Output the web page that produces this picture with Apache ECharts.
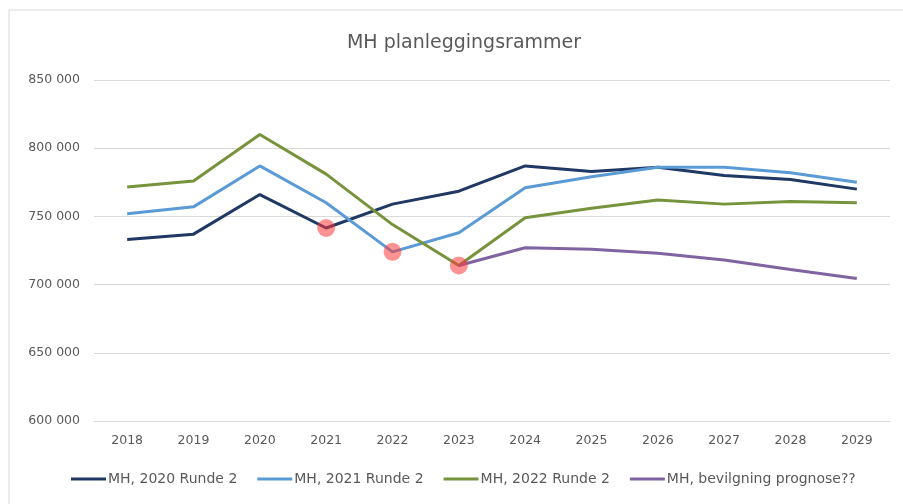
<!DOCTYPE html>
<html>
<head>
<meta charset="utf-8">
<script src="https://cdn.jsdelivr.net/npm/echarts@6/dist/echarts.min.js"></script>
<style>
  html, body { margin: 0; padding: 0; background: #fff; }
  #chart { width: 903px; height: 504px; }
</style>
</head>
<body>
<div id="chart"></div>
<script>
// Data
var years = ['2018', '2019', '2020', '2021', '2022', '2023', '2024', '2025', '2026', '2027', '2028', '2029'];
var runde2020 = [733000, 737000, 766000, 741500, 759000, 768500, 787000, 783000, 786000, 780000, 777000, 770000];
var runde2021 = [752000, 757000, 787000, 760000, 724000, 738000, 771000, 779000, 786000, 786000, 782000, 775000];
var runde2022 = [771500, 776000, 810000, 781000, 744000, 714000, 749000, 756000, 762000, 759000, 761000, 760000];
var prognose = [null, null, null, null, null, 714000, 727000, 726000, 723000, 718000, 711000, 704500];
// highlighted points: [year, value]
var highlights = [['2021', 741500], ['2022', 724000], ['2023', 714000]];

var names = ['MH, 2020 Runde 2', 'MH, 2021 Runde 2', 'MH, 2022 Runde 2', 'MH, bevilgning prognose??'];
var colors = ['#1f3864', '#5b9bd5', '#77933c', '#8064a2'];
var textColor = '#595959';
var font = 'DejaVu Sans';

function fmt(v) {
    return String(v).replace(/\B(?=(\d{3})+(?!\d))/g, ' ');
}

var chart = echarts.init(document.getElementById('chart'));

function lineSeries(i, data) {
    return {
        name: names[i],
        type: 'line',
        data: data,
        symbol: 'none',
        lineStyle: { width: 3, color: colors[i] },
        itemStyle: { color: colors[i] },
        z: 2
    };
}

var option = {
    animation: false,
    graphic: [{
        type: 'rect',
        shape: { x: 9, y: 10, width: 1000, height: 1000 },
        style: { fill: 'none', stroke: '#d9d9d9', lineWidth: 1 },
        silent: true
    }],
    title: {
        text: 'MH planleggingsrammer',
        left: 459,
        textAlign: 'center',
        top: 29,
        textStyle: { fontFamily: font, fontSize: 19, fontWeight: 'normal', color: textColor }
    },
    legend: {
        bottom: 13,
        left: 66,
        itemWidth: 35,
        itemHeight: 3,
        itemGap: 20,
        icon: 'rect',
        data: names,
        textStyle: { fontFamily: font, fontSize: 14, color: textColor, padding: [0, 0, 0, -3] }
    },
    grid: { left: 94, right: 13, top: 80, bottom: 83 },
    xAxis: {
        type: 'category',
        data: years,
        boundaryGap: true,
        axisLine: { show: true, lineStyle: { color: '#d9d9d9' } },
        axisTick: { show: false },
        axisLabel: { fontFamily: font, fontSize: 12.5, color: textColor, margin: 13 }
    },
    yAxis: {
        type: 'value',
        min: 600000,
        max: 850000,
        interval: 50000,
        axisLine: { show: false },
        axisTick: { show: false },
        splitLine: { lineStyle: { color: '#d9d9d9' } },
        axisLabel: { fontFamily: font, fontSize: 12.5, color: textColor, margin: 14, formatter: fmt }
    },
    series: [
        lineSeries(0, runde2020),
        lineSeries(1, runde2021),
        lineSeries(2, runde2022),
        lineSeries(3, prognose),
        {
            name: 'highlight',
            type: 'scatter',
            data: highlights,
            symbolSize: 18,
            itemStyle: { color: 'rgba(255, 55, 55, 0.68)' },
            z: 5
        }
    ]
};

chart.setOption(option);
</script>
</body>
</html>
